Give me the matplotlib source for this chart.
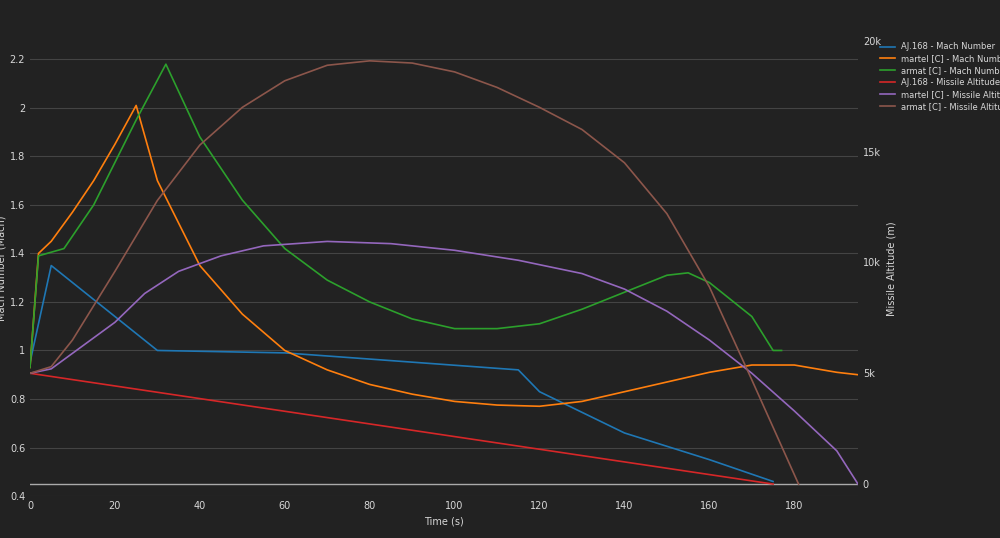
import matplotlib.pyplot as plt
from matplotlib.ticker import FuncFormatter

# Mach number series (time s, mach)
aj_t = [0, 5, 30, 60, 115, 120, 140, 160, 175]
aj_m = [0.95, 1.35, 1.0, 0.99, 0.92, 0.83, 0.66, 0.55, 0.46]
ma_t = [0, 2, 5, 10, 15, 20, 25, 30, 40, 50, 60, 70, 80, 90, 100, 110, 120, 130, 140, 150, 160, 170, 180, 190, 195]
ma_m = [0.93, 1.4, 1.45, 1.57, 1.70, 1.85, 2.01, 1.7, 1.35, 1.15, 1.0, 0.92, 0.86, 0.82, 0.79, 0.775, 0.77, 0.79, 0.83, 0.87, 0.91, 0.94, 0.94, 0.91, 0.90]
ar_t = [0, 2, 8, 15, 25, 32, 40, 50, 60, 70, 80, 90, 100, 110, 120, 130, 140, 150, 155, 160, 170, 175, 177]
ar_m = [0.93, 1.39, 1.42, 1.6, 1.95, 2.18, 1.88, 1.62, 1.42, 1.29, 1.2, 1.13, 1.09, 1.09, 1.11, 1.17, 1.24, 1.31, 1.32, 1.28, 1.14, 1.0, 1.0]

# Missile altitude series (time s, m)
aj_at = [0, 175]
aj_a = [5000, 0]
ma_at = [0, 5, 10, 20, 27, 35, 45, 55, 70, 85, 100, 115, 130, 140, 150, 160, 170, 180, 190, 195]
ma_a = [5000, 5200, 5900, 7300, 8600, 9600, 10300, 10750, 10950, 10850, 10550, 10100, 9500, 8800, 7800, 6500, 5000, 3300, 1500, 0]
ar_at = [0, 5, 10, 20, 30, 40, 50, 60, 70, 80, 90, 100, 110, 120, 130, 140, 150, 160, 170, 181]
ar_a = [5000, 5300, 6500, 9600, 12800, 15300, 17000, 18200, 18900, 19100, 19000, 18600, 17900, 17000, 16000, 14500, 12200, 8900, 4700, 0]

bg = '#222222'
fg = '#d8d8d8'
fig = plt.figure(figsize=(10, 5.38), dpi=100, facecolor=bg)
ax = fig.add_axes([0.03, 0.078, 0.828, 0.846], facecolor=bg)
ax2 = ax.twinx()

l1, = ax.plot(aj_t, aj_m, color='#1f77b4', lw=1.2, label='AJ.168 - Mach Number')
l2, = ax.plot(ma_t, ma_m, color='#ff7f0e', lw=1.2, label='martel [C] - Mach Number')
l3, = ax.plot(ar_t, ar_m, color='#2ca02c', lw=1.2, label='armat [C] - Mach Number')
l4, = ax2.plot(aj_at, aj_a, color='#d62728', lw=1.2, label='AJ.168 - Missile Altitude')
l5, = ax2.plot(ma_at, ma_a, color='#9467bd', lw=1.2, label='martel [C] - Missile Altitude')
l6, = ax2.plot(ar_at, ar_a, color='#8c564b', lw=1.2, label='armat [C] - Missile Altitude')

ax.set_xlim(0, 195)
ax.set_ylim(0.4, 2.276)
ax2.set_ylim(-540, 20000)
ax.set_yticks([0.4, 0.6, 0.8, 1, 1.2, 1.4, 1.6, 1.8, 2, 2.2])
ax.yaxis.set_major_formatter(FuncFormatter(lambda v, p: f'{v:g}'))
ax2.set_yticks([0, 5000, 10000, 15000, 20000])
ax2.yaxis.set_major_formatter(FuncFormatter(lambda v, p: '0' if v == 0 else f'{v/1000:g}k'))
ax.set_xticks(range(0, 181, 20))
ax.grid(axis='y', color='#444444', lw=0.8)
ax.axhline(0.45, color='#aaaaaa', lw=1)

for a in (ax, ax2):
    a.tick_params(colors=fg, labelsize=7, length=0)
    for s in a.spines.values():
        s.set_visible(False)

ax.set_xlabel('Time (s)', color=fg, fontsize=7)
ax.set_ylabel('Mach Number (Mach)', color=fg, fontsize=7)
ax.yaxis.set_label_coords(-0.028, 0.5)
ax2.set_ylabel('Missile Altitude (m)', color=fg, fontsize=7)

leg = fig.legend(handles=[l1, l2, l3, l4, l5, l6], loc='upper left', bbox_to_anchor=(0.872, 0.935),
                 fontsize=6, frameon=False, labelcolor=fg, handlelength=1.8, labelspacing=0.35)

fig.savefig('out.png', facecolor=bg)
